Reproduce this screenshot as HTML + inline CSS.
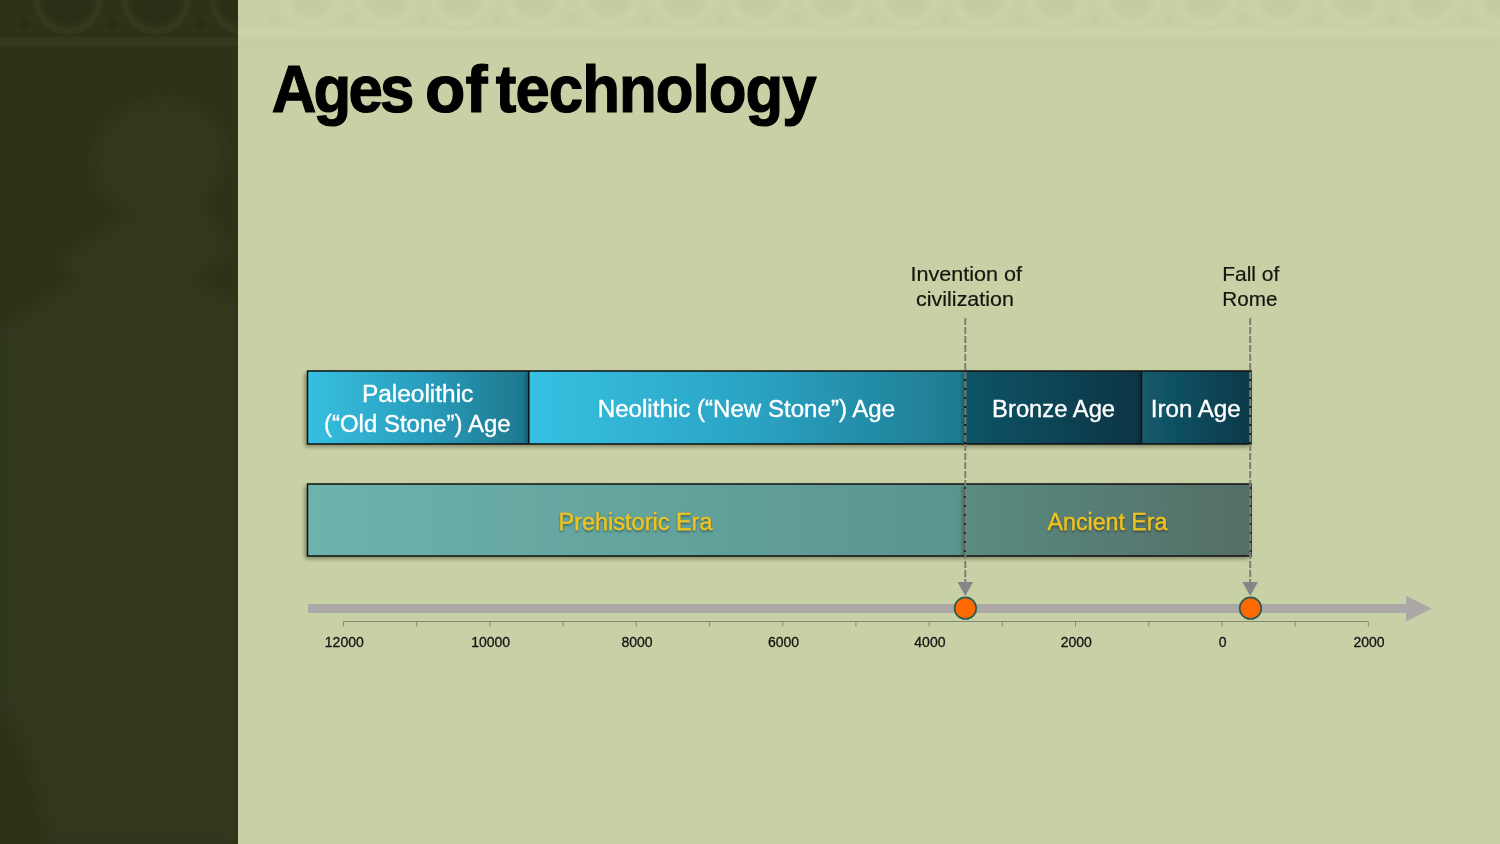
<!DOCTYPE html>
<html><head><meta charset="utf-8">
<style>
html,body{margin:0;padding:0;width:1500px;height:844px;overflow:hidden;background:#c8d1a5;}
svg{display:block;position:absolute;left:0;top:0;will-change:transform;}
text{font-family:"Liberation Sans", sans-serif;}
</style></head>
<body>
<svg width="1500" height="844" viewBox="0 0 1500 844">
<defs>
  <linearGradient id="gPal" x1="0" x2="1" y1="0" y2="0">
    <stop offset="0" stop-color="#36c0e1"/><stop offset="0.5" stop-color="#2a9fbf"/><stop offset="1" stop-color="#1e768c"/>
  </linearGradient>
  <linearGradient id="gNeo" x1="0" x2="1" y1="0" y2="0">
    <stop offset="0" stop-color="#37c1e2"/><stop offset="0.5" stop-color="#2ba4c5"/><stop offset="1" stop-color="#1e7a90"/>
  </linearGradient>
  <linearGradient id="gBro" x1="0" x2="1" y1="0" y2="0">
    <stop offset="0" stop-color="#0f5467"/><stop offset="1" stop-color="#093545"/>
  </linearGradient>
  <linearGradient id="gIro" x1="0" x2="1" y1="0" y2="0">
    <stop offset="0" stop-color="#135b6d"/><stop offset="1" stop-color="#0a3949"/>
  </linearGradient>
  <linearGradient id="gPre" x1="0" x2="1" y1="0" y2="0">
    <stop offset="0" stop-color="#6db3ac"/><stop offset="1" stop-color="#5a958e"/>
  </linearGradient>
  <linearGradient id="gAnc" x1="0" x2="1" y1="0" y2="0">
    <stop offset="0" stop-color="#5b8b80"/><stop offset="1" stop-color="#536e66"/>
  </linearGradient>
  <filter id="sh" x="-5%" y="-20%" width="110%" height="150%">
    <feDropShadow dx="-2" dy="2.5" stdDeviation="2" flood-color="#141400" flood-opacity="0.45"/>
  </filter>
  <filter id="tsh" x="-10%" y="-30%" width="120%" height="160%">
    <feDropShadow dx="0" dy="1.5" stdDeviation="1.2" flood-color="#000" flood-opacity="0.45"/>
  </filter>
</defs>

<!-- left dark panel -->
<filter id="bl15"><feGaussianBlur stdDeviation="1.2"/></filter><g id="friezeL" filter="url(#bl15)">
<rect x="238" y="30" width="1262" height="6" fill="#ccd4ab" opacity="0.7"/>
<rect x="238" y="40" width="1262" height="12" fill="#c4cd9f" opacity="0.5"/>
<circle cx="311.6" cy="-4" r="28" fill="none" stroke="#cad2a8" stroke-width="6"/>
<circle cx="311.6" cy="-4" r="21" fill="#c4cda0"/>
<circle cx="274.4" cy="19" r="5" fill="#c4cda0"/>
<circle cx="386.1" cy="-4" r="28" fill="none" stroke="#cad2a8" stroke-width="6"/>
<circle cx="386.1" cy="-4" r="21" fill="#c4cda0"/>
<circle cx="348.9" cy="19" r="5" fill="#c4cda0"/>
<circle cx="460.6" cy="-4" r="28" fill="none" stroke="#cad2a8" stroke-width="6"/>
<circle cx="460.6" cy="-4" r="21" fill="#c4cda0"/>
<circle cx="423.4" cy="19" r="5" fill="#c4cda0"/>
<circle cx="535.1" cy="-4" r="28" fill="none" stroke="#cad2a8" stroke-width="6"/>
<circle cx="535.1" cy="-4" r="21" fill="#c4cda0"/>
<circle cx="497.9" cy="19" r="5" fill="#c4cda0"/>
<circle cx="609.6" cy="-4" r="28" fill="none" stroke="#cad2a8" stroke-width="6"/>
<circle cx="609.6" cy="-4" r="21" fill="#c4cda0"/>
<circle cx="572.4" cy="19" r="5" fill="#c4cda0"/>
<circle cx="684.1" cy="-4" r="28" fill="none" stroke="#cad2a8" stroke-width="6"/>
<circle cx="684.1" cy="-4" r="21" fill="#c4cda0"/>
<circle cx="646.9" cy="19" r="5" fill="#c4cda0"/>
<circle cx="758.6" cy="-4" r="28" fill="none" stroke="#cad2a8" stroke-width="6"/>
<circle cx="758.6" cy="-4" r="21" fill="#c4cda0"/>
<circle cx="721.4" cy="19" r="5" fill="#c4cda0"/>
<circle cx="833.1" cy="-4" r="28" fill="none" stroke="#cad2a8" stroke-width="6"/>
<circle cx="833.1" cy="-4" r="21" fill="#c4cda0"/>
<circle cx="795.9" cy="19" r="5" fill="#c4cda0"/>
<circle cx="907.6" cy="-4" r="28" fill="none" stroke="#cad2a8" stroke-width="6"/>
<circle cx="907.6" cy="-4" r="21" fill="#c4cda0"/>
<circle cx="870.4" cy="19" r="5" fill="#c4cda0"/>
<circle cx="982.1" cy="-4" r="28" fill="none" stroke="#cad2a8" stroke-width="6"/>
<circle cx="982.1" cy="-4" r="21" fill="#c4cda0"/>
<circle cx="944.9" cy="19" r="5" fill="#c4cda0"/>
<circle cx="1056.6" cy="-4" r="28" fill="none" stroke="#cad2a8" stroke-width="6"/>
<circle cx="1056.6" cy="-4" r="21" fill="#c4cda0"/>
<circle cx="1019.4" cy="19" r="5" fill="#c4cda0"/>
<circle cx="1131.1" cy="-4" r="28" fill="none" stroke="#cad2a8" stroke-width="6"/>
<circle cx="1131.1" cy="-4" r="21" fill="#c4cda0"/>
<circle cx="1093.9" cy="19" r="5" fill="#c4cda0"/>
<circle cx="1205.6" cy="-4" r="28" fill="none" stroke="#cad2a8" stroke-width="6"/>
<circle cx="1205.6" cy="-4" r="21" fill="#c4cda0"/>
<circle cx="1168.4" cy="19" r="5" fill="#c4cda0"/>
<circle cx="1280.1" cy="-4" r="28" fill="none" stroke="#cad2a8" stroke-width="6"/>
<circle cx="1280.1" cy="-4" r="21" fill="#c4cda0"/>
<circle cx="1242.9" cy="19" r="5" fill="#c4cda0"/>
<circle cx="1354.6" cy="-4" r="28" fill="none" stroke="#cad2a8" stroke-width="6"/>
<circle cx="1354.6" cy="-4" r="21" fill="#c4cda0"/>
<circle cx="1317.4" cy="19" r="5" fill="#c4cda0"/>
<circle cx="1429.1" cy="-4" r="28" fill="none" stroke="#cad2a8" stroke-width="6"/>
<circle cx="1429.1" cy="-4" r="21" fill="#c4cda0"/>
<circle cx="1391.9" cy="19" r="5" fill="#c4cda0"/>
<circle cx="1503.6" cy="-4" r="28" fill="none" stroke="#cad2a8" stroke-width="6"/>
<circle cx="1503.6" cy="-4" r="21" fill="#c4cda0"/>
<circle cx="1466.4" cy="19" r="5" fill="#c4cda0"/>
</g>
<rect x="0" y="0" width="238" height="844" fill="#30361a"/>
<svg x="0" y="0" width="238" height="844"><defs><filter id="bl6" x="-20%" y="-20%" width="140%" height="140%"><feGaussianBlur stdDeviation="6"/></filter></defs>
<rect x="0" y="0" width="238" height="844" fill="#2e3318"/>
<g fill="#31371b" filter="url(#bl6)">
<ellipse cx="160" cy="158" rx="68" ry="58" transform="rotate(-15 160 158)"/>
<polygon points="60,260 190,175 232,250 120,340"/>
<polygon points="0,330 120,250 238,300 238,844 50,844 30,760 0,700"/>
</g>
<g id="friezeD">
<rect x="0" y="37" width="238" height="9" fill="#33391c"/>
<circle cx="68.0" cy="0" r="31" fill="none" stroke="#33391c" stroke-width="7"/>
<circle cx="68.0" cy="0" r="23" fill="#2a2f15"/>
<circle cx="24.0" cy="24" r="5" fill="#2a2f15"/>
<circle cx="156.0" cy="0" r="31" fill="none" stroke="#33391c" stroke-width="7"/>
<circle cx="156.0" cy="0" r="23" fill="#2a2f15"/>
<circle cx="112.0" cy="24" r="5" fill="#2a2f15"/>
<circle cx="244.0" cy="0" r="31" fill="none" stroke="#33391c" stroke-width="7"/>
<circle cx="244.0" cy="0" r="23" fill="#2a2f15"/>
<circle cx="200.0" cy="24" r="5" fill="#2a2f15"/>
</g></svg>

<!-- title -->
<g font-size="65" font-weight="bold" fill="#000" stroke="#000" stroke-width="1.2">
<text transform="translate(271.7,112.3) scale(0.95,1.03)" x="0" y="0" textLength="150.1" lengthAdjust="spacing">Ages</text>
<text transform="translate(425,112.3) scale(1,1.03)" x="0" y="0" textLength="62.4" lengthAdjust="spacingAndGlyphs">of</text>
<text transform="translate(495.8,112.3) scale(0.95,1.03)" x="0" y="0" textLength="337.7" lengthAdjust="spacing">technology</text>
</g>

<!-- ages bar -->
<rect x="307" y="371" width="222" height="73" fill="url(#gPal)" filter="url(#sh)"/>
<rect x="529" y="371" width="436" height="73" fill="url(#gNeo)" filter="url(#sh)"/>
<rect x="965" y="371" width="177" height="73" fill="url(#gBro)" filter="url(#sh)"/>
<rect x="1142" y="371" width="109" height="73" fill="url(#gIro)" filter="url(#sh)"/>
<g fill="none" stroke="#111" stroke-width="1.5">
  <rect x="307.5" y="371" width="943.5" height="73"/>
  <line x1="528.8" y1="371" x2="528.8" y2="444"/>
  <line x1="965" y1="371" x2="965" y2="444"/>
  <line x1="1141.5" y1="371" x2="1141.5" y2="444"/>
</g>

<!-- era bar -->
<rect x="307" y="484" width="658" height="72" fill="url(#gPre)" filter="url(#sh)"/>
<rect x="965" y="484" width="286" height="72" fill="url(#gAnc)" filter="url(#sh)"/>
<g fill="none" stroke="#111" stroke-width="1.5">
  <rect x="307.5" y="484" width="943.5" height="72"/>
  <line x1="965" y1="484" x2="965" y2="556"/>
</g>

<!-- bar texts -->
<g fill="#fff" font-size="23" stroke="#fff" stroke-width="0.35">
  <text x="417.6" y="402" text-anchor="middle" textLength="111.4" lengthAdjust="spacingAndGlyphs">Paleolithic</text>
  <text x="417.3" y="431.5" text-anchor="middle" textLength="186.7" lengthAdjust="spacingAndGlyphs">(“Old Stone”) Age</text>
  <text x="746.5" y="417" text-anchor="middle" textLength="297.4" lengthAdjust="spacingAndGlyphs">Neolithic (“New Stone”) Age</text>
  <text x="1053.6" y="417" text-anchor="middle" textLength="123" lengthAdjust="spacingAndGlyphs">Bronze Age</text>
  <text x="1195.7" y="417" text-anchor="middle" textLength="90" lengthAdjust="spacingAndGlyphs">Iron Age</text>
</g>
<g fill="#f2c21c" font-size="23" stroke="#f2c21c" stroke-width="0.3" filter="url(#tsh)">
  <text x="635.5" y="529.5" text-anchor="middle" textLength="154" lengthAdjust="spacingAndGlyphs">Prehistoric Era</text>
  <text x="1107.5" y="529.5" text-anchor="middle" textLength="120" lengthAdjust="spacingAndGlyphs">Ancient Era</text>
</g>

<!-- event labels -->
<g fill="#15150f" font-size="20.5" stroke="#15150f" stroke-width="0.2">
  <text x="966.3" y="280.6" text-anchor="middle" textLength="111.6" lengthAdjust="spacingAndGlyphs">Invention of</text>
  <text x="965" y="306.1" text-anchor="middle" textLength="97.8" lengthAdjust="spacingAndGlyphs">civilization</text>
  <text x="1250.8" y="280.6" text-anchor="middle" textLength="57.2" lengthAdjust="spacingAndGlyphs">Fall of</text>
  <text x="1249.9" y="306.1" text-anchor="middle" textLength="55.1" lengthAdjust="spacingAndGlyphs">Rome</text>
</g>

<!-- axis -->
<rect x="308" y="604" width="1099" height="9" fill="#aca8a8"/>
<polygon points="1406,596 1432,608.5 1406,621.5" fill="#aca8a8"/>

<!-- tick line -->
<g stroke="#858a70" stroke-width="1" fill="none">
  <line x1="343.5" y1="621.5" x2="1368.5" y2="621.5"/>
</g>
<g stroke="#858a70" stroke-width="1"><line x1="343.5" y1="621.5" x2="343.5" y2="626.5"/><line x1="416.7" y1="621.5" x2="416.7" y2="626.5"/><line x1="489.9" y1="621.5" x2="489.9" y2="626.5"/><line x1="563.1" y1="621.5" x2="563.1" y2="626.5"/><line x1="636.3" y1="621.5" x2="636.3" y2="626.5"/><line x1="709.5" y1="621.5" x2="709.5" y2="626.5"/><line x1="782.7" y1="621.5" x2="782.7" y2="626.5"/><line x1="855.9" y1="621.5" x2="855.9" y2="626.5"/><line x1="929.1" y1="621.5" x2="929.1" y2="626.5"/><line x1="1002.3" y1="621.5" x2="1002.3" y2="626.5"/><line x1="1075.5" y1="621.5" x2="1075.5" y2="626.5"/><line x1="1148.7" y1="621.5" x2="1148.7" y2="626.5"/><line x1="1221.9" y1="621.5" x2="1221.9" y2="626.5"/><line x1="1295.1" y1="621.5" x2="1295.1" y2="626.5"/><line x1="1368.3" y1="621.5" x2="1368.3" y2="626.5"/></g>

<!-- dashed lines -->
<g stroke="#7d7d74" stroke-width="2" stroke-dasharray="7 2" fill="none">
  <line x1="965.3" y1="318" x2="965.3" y2="583"/>
  <line x1="1250.2" y1="318" x2="1250.2" y2="583"/>
</g>
<g fill="#86868a">
  <polygon points="957.5,582 973.1,582 965.3,596"/>
  <polygon points="1242.4,582 1258,582 1250.2,596"/>
</g>

<!-- circles -->
<g fill="#ff6a00" stroke="#2b5a52" stroke-width="1.6">
  <circle cx="965.4" cy="608.2" r="10.8"/>
  <circle cx="1250.5" cy="608.2" r="10.8"/>
</g>

<!-- axis labels -->
<g fill="#141414" font-size="14" text-anchor="middle" stroke="#141414" stroke-width="0.3">
  <text x="344.3" y="646.8">12000</text>
  <text x="490.7" y="646.8">10000</text>
  <text x="637.1" y="646.8">8000</text>
  <text x="783.5" y="646.8">6000</text>
  <text x="929.9" y="646.8">4000</text>
  <text x="1076.3" y="646.8">2000</text>
  <text x="1222.7" y="646.8">0</text>
  <text x="1369.1" y="646.8">2000</text>
</g>
</svg>
</body></html>
